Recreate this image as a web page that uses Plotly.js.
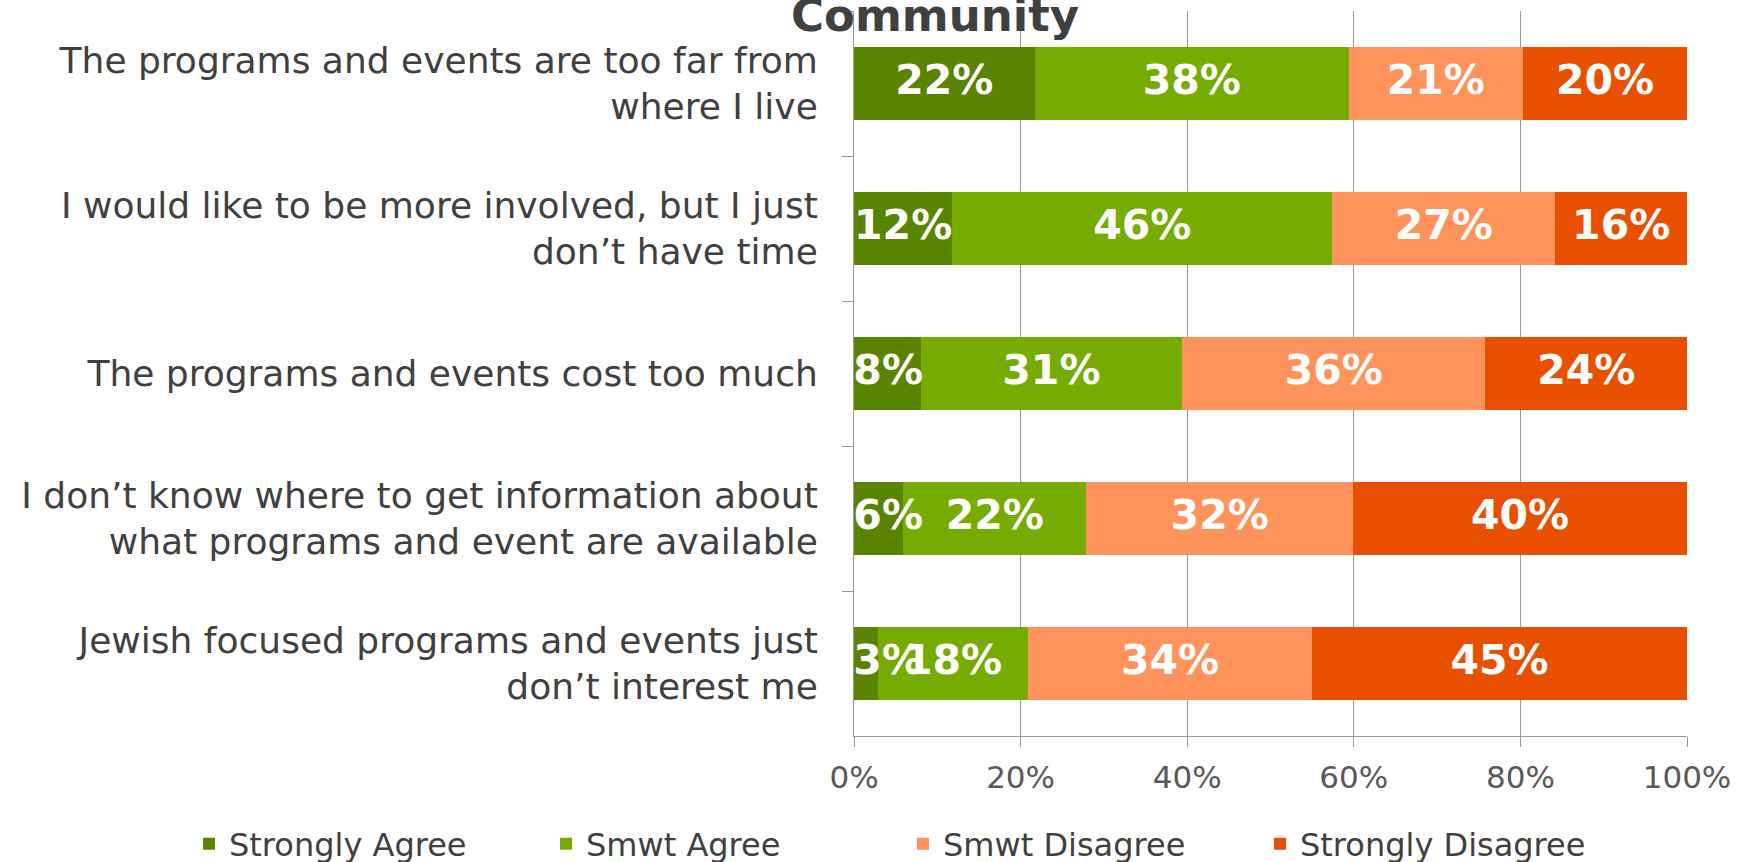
<!DOCTYPE html>
<html>
<head>
<meta charset="utf-8">
<script src="https://cdn.plot.ly/plotly-3.0.1.min.js"></script>
<style>html,body{margin:0;padding:0;background:#fff;}#chart{width:1746px;height:862px;}</style>
</head>
<body>
<div id="chart"></div>
<script>
const categories = [
  "The programs and events are too far from<br>where I live",
  "I would like to be more involved, but I just<br>don’t have time",
  "The programs and events cost too much",
  "I don’t know where to get information about<br>what programs and event are available",
  "Jewish focused programs and events just<br>don’t interest me"
];
const seriesNames = ["Strongly Agree", "Smwt Agree", "Smwt Disagree", "Strongly Disagree"];
const stronglyAgree    = [21.7, 11.8, 8.0, 5.9, 2.9];
const smwtAgree        = [37.7, 45.6, 31.4, 22.0, 18.0];
const smwtDisagree     = [20.9, 26.8, 36.4, 32.0, 34.1];
const stronglyDisagree = [19.7, 15.8, 24.2, 40.1, 45.0];
const xTickVals = [0, 20, 40, 60, 80, 100];
const xTickText = ["0%", "20%", "40%", "60%", "80%", "100%"];
const colors = ["#588400", "#76AB00", "#FF935B", "#E85000"];

const series = [stronglyAgree, smwtAgree, smwtDisagree, stronglyDisagree];
const traces = [];
series.forEach((vals, i) => {
  traces.push({
    type: "bar", orientation: "h", name: seriesNames[i],
    y: categories, x: vals,
    marker: {color: colors[i], line: {width: 0}},
    hoverinfo: "skip", textposition: "none"
  });
});
// value labels at segment centres
const cum = categories.map(() => 0);
series.forEach((vals) => {
  const xs = [], txt = [];
  vals.forEach((v, j) => {
    const mid = cum[j] + v / 2;
    xs.push(Math.max(mid, 4.1));
    txt.push(Math.round(v) + "%");
    cum[j] += v;
  });
  traces.push({
    type: "scatter", mode: "text", x: xs, y: categories, text: txt,
    textposition: "middle center", cliponaxis: false, showlegend: false, hoverinfo: "skip",
    textfont: {family: "DejaVu Sans", size: 41, color: "#ffffff", weight: "bold"}
  });
});

const layout = {
  width: 1746, height: 862,
  paper_bgcolor: "#ffffff", plot_bgcolor: "#ffffff",
  margin: {l: 854, r: 59, t: 11, b: 126, autoexpand: false},
  barmode: "stack", bargap: 0.49,
  font: {family: "DejaVu Sans", color: "#404040"},
  title: {
    text: "<b>Community</b>", xref: "container", yref: "container",
    x: 935 / 1746, xanchor: "center", y: 1 - 15 / 862, yanchor: "middle",
    font: {family: "DejaVu Sans", size: 45, color: "#404040"}
  },
  xaxis: {
    range: [0, 100], tickvals: xTickVals, ticktext: xTickText,
    showgrid: true, gridcolor: "#999999", gridwidth: 1,
    showline: true, linecolor: "#999999", linewidth: 1,
    ticks: "outside", ticklen: 10, tickcolor: "#999999",
    tickfont: {family: "DejaVu Sans", size: 31, color: "#595959"},
    ticklabelstandoff: 4, zeroline: false, fixedrange: true, automargin: false
  },
  yaxis: {
    autorange: "reversed", type: "category",
    showline: true, linecolor: "#999999", linewidth: 1,
    ticks: "outside", ticklen: 11, tickcolor: "#999999", tickson: "boundaries",
    showgrid: false,
    tickfont: {family: "DejaVu Sans", size: 36, color: "#404040"},
    ticklabelstandoff: 28, fixedrange: true, automargin: false
  },
  showlegend: true,
  legend: {
    orientation: "h", xref: "paper", x: (189 - 854) / 833, xanchor: "left",
    yref: "paper", y: -(844 - 736) / 725, yanchor: "middle",
    font: {family: "DejaVu Sans", size: 32, color: "#404040"},
    itemwidth: 30, traceorder: "normal",
    entrywidth: 312, entrywidthmode: "pixels"
  }
};
Plotly.newPlot("chart", traces, layout, {staticPlot: true, displayModeBar: false});
</script>
</body>
</html>
